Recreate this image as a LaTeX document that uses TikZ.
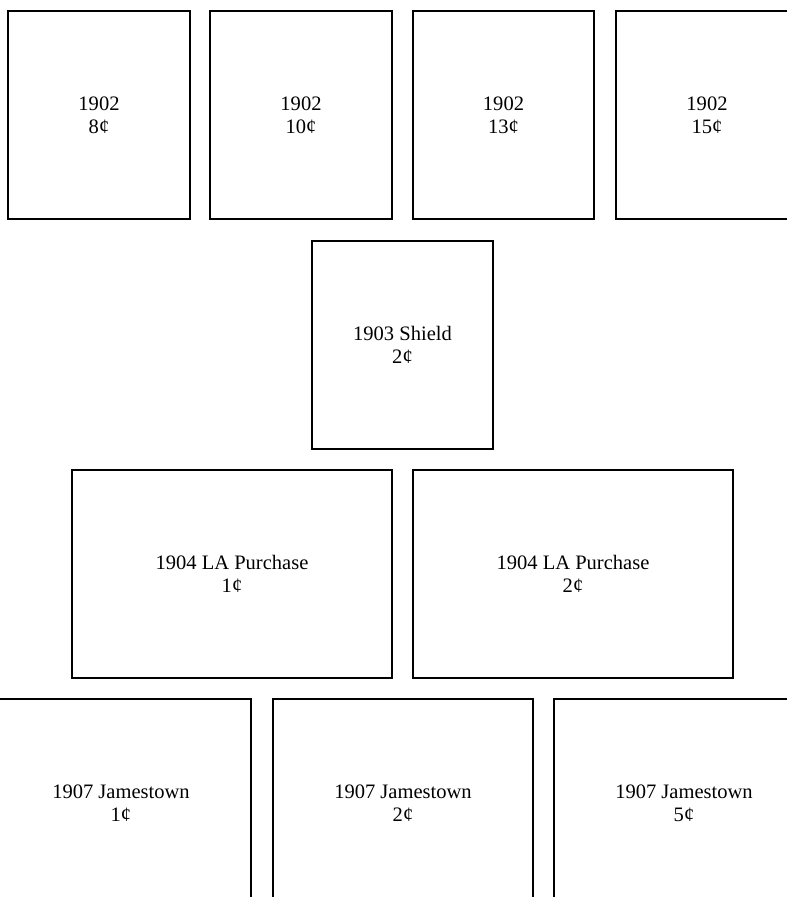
\documentclass[tikz,border=0pt]{standalone}
\usepackage{fontspec}
\setmainfont{Liberation Serif}
\begin{document}
\begin{tikzpicture}[x=0.75pt,y=-0.75pt,
  stampbox/.style 2 args={draw=black, line width=0.8pt,
    minimum width=#1*0.75pt, minimum height=#2*0.75pt,
    inner sep=0pt, outer sep=0pt, align=center,
    font=\fontsize{15.4}{17}\selectfont}]
\useasboundingbox (0,0) rectangle (787,897);
\clip (0,0) rectangle (787,897);
% row 1
\node[stampbox={182}{208}] (a1) at (99,115)    {1902\\8¢};
\node[stampbox={182}{208}] (a2) at (301,115)   {1902\\10¢};
\node[stampbox={181}{208}] (a3) at (503.5,115) {1902\\13¢};
\node[stampbox={182}{208}] (a4) at (707,115)   {1902\\15¢};
% row 2
\node[stampbox={181}{208}] (b1) at (402.5,345) {1903 Shield\\2¢};
% row 3
\node[stampbox={320}{208}] (c1) at (232,574) {1904 LA Purchase\\1¢};
\node[stampbox={320}{208}] (c2) at (573,574) {1904 LA Purchase\\2¢};
% row 4
\node[stampbox={260}{208}] (d1) at (121,803) {1907 Jamestown\\1¢};
\node[stampbox={260}{208}] (d2) at (403,803) {1907 Jamestown\\2¢};
\node[stampbox={260}{208}] (d3) at (684,803) {1907 Jamestown\\5¢};
\end{tikzpicture}
\end{document}
